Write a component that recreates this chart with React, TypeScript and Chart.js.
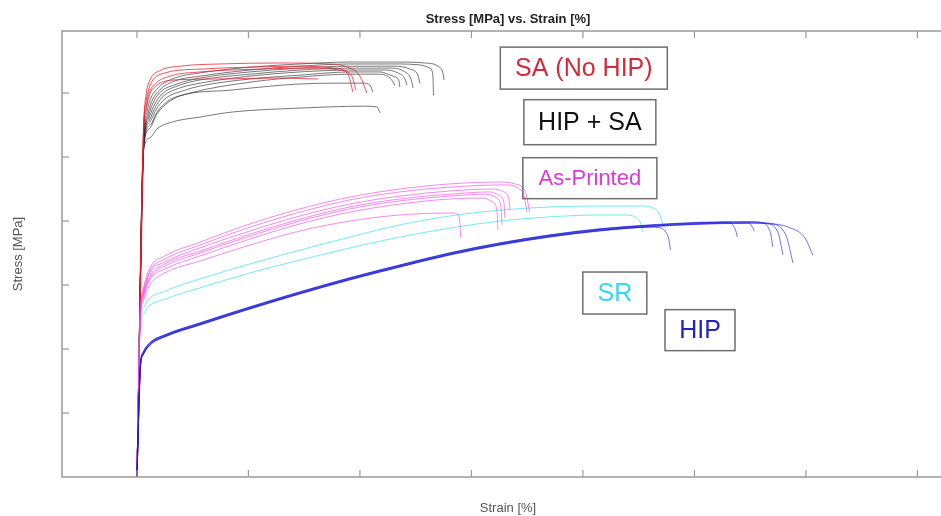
import React, { useEffect, useRef } from "react";
import { Chart, registerables } from "chart.js";

Chart.register(...registerables);

type Pt = [number, number];

// Axis tick positions (no labels are shown in the original)
const xTicks = [0, 5, 10, 15, 20, 25, 30, 35];
const yTicks = [200, 400, 600, 800, 1000, 1200];
const xMin = -3.36;
const xMax = 36.64;
const yMin = 0;
const yMax = 1394;

const groupLabels = ["SA (No HIP)", "HIP + SA", "As-Printed", "SR", "HIP"];

// SA (No HIP) – red
const saCurves: Pt[][] = [
  [[0, 0], [0.28, 980], [0.33, 1130], [0.4, 1190], [0.58, 1240], [1.03, 1270], [1.93, 1284], [3.72, 1291], [6.41, 1294], [8.65, 1291], [9.55, 1278], [10.0, 1253], [10.31, 1200]],
  [[0, 0], [0.3, 1100], [0.4, 1170], [0.5, 1205], [0.67, 1236], [1.26, 1263], [2.83, 1275], [5.07, 1281], [7.31, 1284], [8.88, 1278], [9.46, 1259], [9.69, 1203]],
  [[0, 0], [0.3, 1080], [0.42, 1150], [0.55, 1192], [0.85, 1222], [1.7, 1241], [3.72, 1244], [6.41, 1247], [8.12, 1244]],
  [[0, 0], [0.3, 1090], [0.4, 1150], [0.52, 1195], [0.81, 1228], [1.48, 1253], [2.83, 1266], [5.52, 1275], [7.76, 1278], [9.1, 1272], [9.64, 1253], [9.82, 1209]],
];

// HIP + SA – black
const hipSaCurves: Pt[][] = [
  [[0, 0], [0.31, 1060], [0.45, 1140], [0.6, 1180], [0.95, 1216], [1.7, 1247], [2.83, 1263], [5.07, 1281], [7.31, 1291], [9.55, 1297], [11.79, 1297], [12.91, 1294], [13.5, 1284], [13.72, 1263], [13.77, 1241]],
  [[0, 0], [0.31, 1055], [0.47, 1130], [0.65, 1172], [0.95, 1205], [1.7, 1238], [2.83, 1253], [5.07, 1272], [7.31, 1284], [9.55, 1291], [11.79, 1291], [12.69, 1288], [13.14, 1278], [13.27, 1256], [13.3, 1194]],
  [[0, 0], [0.31, 1050], [0.5, 1125], [0.7, 1166], [1.0, 1200], [1.7, 1226], [2.83, 1247], [5.07, 1266], [7.31, 1278], [9.55, 1284], [11.57, 1284], [12.24, 1275], [12.6, 1256], [12.69, 1231]],
  [[0, 0], [0.31, 1048], [0.52, 1120], [0.75, 1159], [1.1, 1195], [1.93, 1225], [2.83, 1241], [5.07, 1259], [7.31, 1272], [9.55, 1278], [11.35, 1278], [12.02, 1266], [12.29, 1244], [12.38, 1216]],
  [[0, 0], [0.31, 1045], [0.55, 1115], [0.8, 1153], [1.15, 1188], [1.93, 1216], [2.83, 1231], [5.07, 1253], [7.31, 1266], [9.55, 1272], [11.12, 1272], [11.7, 1263], [12.02, 1244], [12.11, 1225]],
  [[0, 0], [0.31, 1040], [0.58, 1110], [0.85, 1147], [1.26, 1182], [2.15, 1209], [2.83, 1222], [5.07, 1244], [7.31, 1256], [9.55, 1266], [10.9, 1266], [11.48, 1253], [11.75, 1238], [11.79, 1219]],
  [[0, 0], [0.31, 1035], [0.6, 1100], [0.9, 1140], [1.39, 1175], [2.38, 1200], [5.07, 1234], [7.31, 1250], [9.55, 1259], [10.81, 1259], [11.35, 1247], [11.57, 1225]],
  [[0, 0], [0.3, 1030], [0.58, 1090], [0.9, 1135], [1.3, 1165], [1.93, 1191], [4.17, 1209], [7.17, 1228], [9.1, 1231], [10.13, 1231], [10.45, 1225], [10.58, 1203]],
  [[0, 0], [0.3, 1020], [0.58, 1060], [0.9, 1088], [1.5, 1108], [2.83, 1125], [4.3, 1141], [7.31, 1153], [10.2, 1159], [10.76, 1157], [10.9, 1138]],
];

// As-Printed – magenta
const asPrintedCurves: Pt[][] = [
  [[0, 0], [0.15, 520], [0.27, 584], [0.58, 653], [1.26, 691], [2.83, 734], [5.07, 791], [7.31, 838], [9.55, 875], [11.79, 900], [14.04, 916], [16.28, 922], [16.95, 916], [17.4, 894], [17.62, 828]],
  [[0, 0], [0.15, 515], [0.27, 578], [0.58, 644], [1.26, 681], [2.83, 725], [5.07, 781], [7.31, 828], [9.55, 866], [11.79, 891], [14.04, 906], [16.5, 913], [17.09, 903], [17.35, 881], [17.49, 828]],
  [[0, 0], [0.15, 512], [0.27, 572], [0.58, 638], [1.26, 672], [2.83, 716], [5.07, 769], [7.31, 816], [9.55, 853], [11.79, 878], [14.04, 894], [15.96, 900], [16.46, 891], [16.68, 869], [16.73, 834]],
  [[0, 0], [0.15, 508], [0.27, 566], [0.58, 628], [1.26, 666], [2.83, 706], [5.07, 759], [7.31, 806], [9.55, 844], [11.79, 869], [14.04, 884], [15.83, 891], [16.28, 878], [16.46, 856], [16.5, 809]],
  [[0, 0], [0.15, 505], [0.27, 563], [0.58, 622], [1.26, 659], [2.83, 700], [5.07, 753], [7.31, 800], [9.55, 838], [11.79, 863], [14.04, 878], [15.61, 884], [16.14, 872], [16.32, 847], [16.37, 788]],
  [[0, 0], [0.15, 500], [0.27, 556], [0.58, 616], [1.26, 650], [2.83, 691], [5.07, 744], [7.31, 791], [9.55, 828], [11.79, 853], [14.04, 869], [15.47, 872], [15.96, 859], [16.14, 834], [16.19, 772]],
  [[0, 0], [0.15, 495], [0.27, 547], [0.58, 600], [1.26, 638], [2.83, 675], [5.07, 725], [7.31, 769], [9.55, 800], [11.79, 819], [14.04, 825], [14.22, 825], [14.44, 816], [14.53, 747]],
];

// SR – cyan
const srCurves: Pt[][] = [
  [[0, 0], [0.14, 490], [0.3, 530], [0.49, 553], [1.26, 581], [2.83, 619], [5.07, 666], [7.31, 709], [9.55, 750], [11.79, 788], [14.04, 816], [16.28, 834], [18.52, 844], [20.76, 847], [22.56, 847], [23.23, 838], [23.45, 819], [23.59, 788]],
  [[0, 0], [0.13, 470], [0.3, 510], [0.49, 531], [1.26, 556], [2.83, 591], [5.07, 638], [7.31, 678], [9.55, 716], [11.79, 750], [14.04, 778], [16.28, 800], [18.52, 813], [20.76, 819], [21.88, 819], [22.33, 813], [22.56, 797], [22.69, 766]],
];

// HIP – blue
const hipCurves: Pt[][] = [
  [[0, 0], [0.16, 346], [0.27, 380], [0.58, 412], [1.26, 438], [2.83, 475], [5.07, 525], [7.31, 572], [9.55, 616], [11.79, 656], [14.04, 694], [16.28, 725], [18.52, 750], [20.76, 769], [23.0, 781], [23.45, 779], [23.72, 765], [23.86, 740], [23.92, 709]],
  [[0, 0], [0.16, 352], [0.27, 386], [0.58, 418], [1.26, 443], [2.83, 480], [5.07, 530], [7.31, 577], [9.55, 621], [11.79, 661], [14.04, 699], [16.28, 730], [18.52, 755], [20.76, 774], [23.0, 786], [25.25, 794], [26.5, 796], [26.82, 776], [26.93, 750]],
  [[0, 0], [0.16, 348], [0.27, 382], [0.58, 414], [1.26, 440], [2.83, 477], [5.07, 527], [7.31, 574], [9.55, 618], [11.79, 658], [14.04, 696], [16.28, 727], [18.52, 752], [20.76, 771], [23.0, 783], [25.25, 791], [27.4, 794], [27.62, 779], [27.68, 768]],
  [[0, 0], [0.16, 355], [0.27, 390], [0.58, 420], [1.26, 445], [2.83, 482], [5.07, 532], [7.31, 579], [9.55, 623], [11.79, 663], [14.04, 701], [16.28, 732], [18.52, 757], [20.76, 776], [23.0, 788], [25.25, 796], [27.49, 798], [27.94, 796], [28.39, 768], [28.52, 719]],
  [[0, 0], [0.16, 350], [0.27, 384], [0.58, 416], [1.26, 441], [2.83, 478], [5.07, 528], [7.31, 575], [9.55, 619], [11.79, 659], [14.04, 697], [16.28, 728], [18.52, 753], [20.76, 772], [23.0, 784], [25.25, 792], [27.49, 795], [28.16, 793], [28.74, 766], [28.97, 694]],
  [[0, 0], [0.16, 346], [0.27, 380], [0.58, 412], [1.26, 439], [2.83, 476], [5.07, 526], [7.31, 573], [9.55, 617], [11.79, 657], [14.04, 695], [16.28, 726], [18.52, 751], [20.76, 770], [23.0, 782], [25.25, 790], [27.49, 793], [28.39, 791], [29.1, 756], [29.42, 669]],
  [[0, 0], [0.16, 353], [0.27, 388], [0.58, 419], [1.26, 444], [2.83, 481], [5.07, 531], [7.31, 578], [9.55, 622], [11.79, 662], [14.04, 700], [16.28, 731], [18.52, 756], [20.76, 775], [23.0, 787], [25.25, 795], [27.49, 797], [28.39, 793], [29.28, 779], [29.96, 747], [30.31, 694]],
];

const FONT = "'Liberation Sans', Arial, Helvetica, sans-serif";

// drawn in this order (first = bottom)
const groups = [
  { curves: hipSaCurves, color: "rgba(30,30,30,0.6)" },
  { curves: saCurves, color: "rgba(225,30,45,0.75)" },
  { curves: srCurves, color: "rgba(70,225,240,0.75)" },
  { curves: asPrintedCurves, color: "rgba(240,60,225,0.6)" },
  { curves: hipCurves, color: "rgba(25,25,215,0.6)" },
];

// Label boxes: anchored in data coordinates, sizes in px
const labelBoxes = [
  { text: groupLabels[0], cx: 20.04, cy: 1278, w: 167, h: 42, color: "#d42a3c", size: 25 },
  { text: groupLabels[1], cx: 20.31, cy: 1109, w: 132, h: 45, color: "#111111", size: 25 },
  { text: groupLabels[2], cx: 20.31, cy: 934, w: 134, h: 41, color: "#e038d8", size: 22 },
  { text: groupLabels[3], cx: 21.43, cy: 575, w: 64, h: 42, color: "#35d8f0", size: 25 },
  { text: groupLabels[4], cx: 25.25, cy: 459, w: 70, h: 41, color: "#2424b8", size: 25 },
];

const framePlugin = {
  id: "frameTicks",
  afterDatasetsDraw(chart: any) {
    const { ctx, chartArea: a, scales } = chart;
    ctx.save();
    ctx.strokeStyle = "#9a9a9a";
    ctx.lineWidth = 1.5;
    ctx.strokeRect(a.left, a.top, a.right - a.left, a.bottom - a.top);
    ctx.lineWidth = 1.2;
    const seg = (x1: number, y1: number, x2: number, y2: number) => {
      ctx.beginPath();
      ctx.moveTo(x1, y1);
      ctx.lineTo(x2, y2);
      ctx.stroke();
    };
    for (const v of xTicks) {
      const px = scales.x.getPixelForValue(v);
      seg(px, a.bottom, px, a.bottom - 7);
      seg(px, a.top, px, a.top + 7);
    }
    for (const v of yTicks) {
      const py = scales.y.getPixelForValue(v);
      seg(a.left, py, a.left + 7, py);
      seg(a.right, py, a.right - 7, py);
    }
    ctx.restore();
  },
};

const labelPlugin = {
  id: "labelBoxes",
  afterDraw(chart: any) {
    const { ctx, scales } = chart;
    ctx.save();
    for (const b of labelBoxes) {
      const px = scales.x.getPixelForValue(b.cx);
      const py = scales.y.getPixelForValue(b.cy);
      ctx.strokeStyle = "#6e6e6e";
      ctx.lineWidth = 1.5;
      ctx.strokeRect(px - b.w / 2, py - b.h / 2, b.w, b.h);
      ctx.fillStyle = b.color;
      ctx.font = `${b.size}px ${FONT}`;
      ctx.textAlign = "center";
      ctx.textBaseline = "middle";
      ctx.fillText(b.text, px, py + 1);
    }
    ctx.restore();
  },
};

export default function App() {
  const ref = useRef<HTMLCanvasElement>(null);
  useEffect(() => {
    const datasets: any[] = [];
    groups.forEach((g, gi) => {
      g.curves.forEach((c) => {
        datasets.push({
          data: c.map(([x, y]) => ({ x, y })),
          borderColor: g.color,
          borderWidth: 1,
          pointRadius: 0,
          showLine: true,
          fill: false,
          cubicInterpolationMode: "monotone",
          order: groups.length - gi,
        });
      });
    });
    const chart = new Chart(ref.current!, {
      type: "scatter",
      data: { datasets },
      plugins: [framePlugin, labelPlugin],
      options: {
        responsive: false,
        animation: false,
        devicePixelRatio: 1,
        events: [],
        layout: { padding: { left: 0, right: 6, top: 0, bottom: 0 } },
        plugins: {
          legend: { display: false },
          tooltip: { enabled: false },
          title: {
            display: true,
            text: "Stress [MPa] vs. Strain [%]",
            fullSize: false,
            color: "#222",
            font: { size: 13, weight: "bold", family: FONT },
            padding: { top: 12, bottom: 3.4 },
          },
        },
        scales: {
          x: {
            type: "linear",
            min: xMin,
            max: xMax,
            ticks: { display: false },
            grid: { display: false },
            border: { display: false },
            title: {
              display: true,
              text: "Strain [%]",
              color: "#555",
              font: { size: 13, family: FONT },
              padding: { top: 0, bottom: 0 },
            },
            afterFit: (s: any) => {
              s.height = 39;
            },
          },
          y: {
            type: "linear",
            min: yMin,
            max: yMax,
            ticks: { display: false },
            grid: { display: false },
            border: { display: false },
            title: {
              display: true,
              text: "Stress [MPa]",
              color: "#555",
              font: { size: 13, family: FONT },
              padding: { top: 11, bottom: 0 },
            },
            afterFit: (s: any) => {
              s.width = 62;
            },
          },
        },
      } as any,
    });
    return () => chart.destroy();
  }, []);

  return (
    <div
      style={{
        position: "absolute",
        left: 0,
        top: 0,
        width: 941,
        height: 516,
        overflow: "hidden",
        background: "#fff",
      }}
    >
      <canvas ref={ref} width={960} height={516} style={{ display: "block", width: 960, height: 516 }} />
    </div>
  );
}
